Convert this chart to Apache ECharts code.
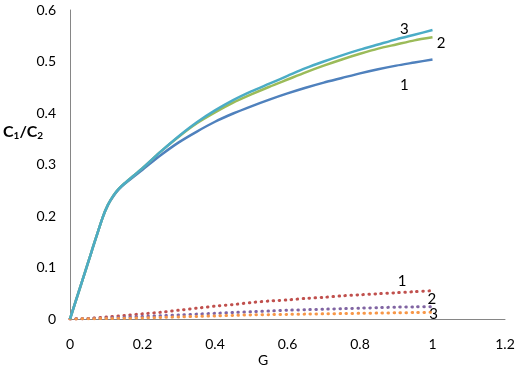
<!DOCTYPE html>
<html>
<head>
<meta charset="utf-8">
<script src="https://cdn.jsdelivr.net/npm/echarts@6/dist/echarts.min.js"></script>
<style>
  html, body { margin: 0; padding: 0; background: #fff; }
  #container { width: 521px; height: 370px; }
</style>
</head>
<body>
<div id="container"></div>
<script>
// G values and C1/C2 curves
const gSolid = [0, 0.03, 0.06, 0.09, 0.105, 0.12, 0.135, 0.15, 0.2, 0.25, 0.3, 0.35, 0.4, 0.45, 0.5, 0.55, 0.6, 0.65, 0.7, 0.75, 0.8, 0.85, 0.9, 0.95, 1.0];
const solid1 = [0, 0.066, 0.132, 0.197, 0.222, 0.239, 0.252, 0.262, 0.290, 0.318, 0.343, 0.364, 0.383, 0.399, 0.413, 0.426, 0.438, 0.449, 0.459, 0.468, 0.477, 0.485, 0.492, 0.498, 0.504];
const solid2 = [0, 0.066, 0.132, 0.197, 0.222, 0.240, 0.253, 0.263, 0.293, 0.325, 0.354, 0.380, 0.401, 0.420, 0.436, 0.451, 0.465, 0.479, 0.492, 0.504, 0.515, 0.525, 0.533, 0.541, 0.547];
const solid3 = [0, 0.066, 0.132, 0.197, 0.222, 0.240, 0.253, 0.263, 0.293, 0.325, 0.355, 0.382, 0.405, 0.425, 0.442, 0.457, 0.472, 0.487, 0.500, 0.512, 0.523, 0.533, 0.543, 0.552, 0.561];

const gDot = [0, 0.05, 0.1, 0.15, 0.2, 0.25, 0.3, 0.35, 0.4, 0.45, 0.5, 0.55, 0.6, 0.65, 0.7, 0.75, 0.8, 0.85, 0.9, 0.95, 1.0];
const dot1 = [0, 0.001, 0.004, 0.007, 0.010, 0.013, 0.017, 0.021, 0.025, 0.028, 0.032, 0.035, 0.037, 0.040, 0.042, 0.045, 0.047, 0.049, 0.051, 0.053, 0.055];
const dot2 = [0, 0.001, 0.002, 0.0035, 0.005, 0.0065, 0.008, 0.0095, 0.011, 0.0125, 0.014, 0.0155, 0.017, 0.018, 0.019, 0.020, 0.021, 0.022, 0.023, 0.0235, 0.024];
const dot3 = [0, 0.0005, 0.001, 0.0015, 0.002, 0.003, 0.004, 0.005, 0.006, 0.007, 0.008, 0.0085, 0.009, 0.0095, 0.010, 0.0105, 0.011, 0.0115, 0.012, 0.0125, 0.013];

// curve numbers written next to the lines: [G, C1/C2, text]
const tags1 = [0.922, 0.454, '1'];
const tags2 = [1.024, 0.535, '2'];
const tags3 = [0.922, 0.562, '3'];
const tagsD1 = [0.916, 0.074, '1'];
const tagsD2 = [0.998, 0.038, '2'];
const tagsD3 = [1.003, 0.009, '3'];

const xTicks = [0, 0.2, 0.4, 0.6, 0.8, 1, 1.2];
const yTicks = [0, 0.1, 0.2, 0.3, 0.4, 0.5, 0.6];

const FONT = 'Lato';

function pairs(xs, ys) {
    return xs.map(function (x, i) { return [x, ys[i]]; });
}

function tag(t) {
    return {
        symbolSize: 0,
        label: { show: true, position: 'inside', color: '#000', fontSize: 15, fontFamily: FONT, formatter: t[2] },
        data: [{ coord: [t[0], t[1]] }]
    };
}

function line(data, color, dotted, t) {
    return {
        type: 'line',
        data: data,
        showSymbol: false,
        smooth: 0.25,
        animation: false,
        lineStyle: dotted
            ? { color: color, width: 3, type: [0.5, 5.5], cap: 'round' }
            : { color: color, width: 2.5 },
        markPoint: tag(t)
    };
}

let myChart = echarts.init(document.getElementById('container'));
let option = {
    backgroundColor: '#fff',
    animation: false,
    grid: { left: 70, right: 16, top: 10, bottom: 51 },
    xAxis: {
        type: 'value',
        min: 0, max: 1.2, interval: 0.2,
        axisLine: { lineStyle: { color: '#868686', width: 1 } },
        axisTick: { show: false },
        splitLine: { show: false },
        axisLabel: {
            color: '#000', fontSize: 14, fontFamily: FONT, margin: 18,
            formatter: function (v) {
                let t = xTicks.find(function (k) { return Math.abs(k - v) < 1e-6; });
                return t === undefined ? '' : String(t);
            }
        }
    },
    yAxis: {
        type: 'value',
        min: 0, max: 0.6, interval: 0.1,
        axisLine: { show: true, lineStyle: { color: '#868686', width: 1 } },
        axisTick: { show: false },
        splitLine: { show: false },
        axisLabel: {
            color: '#000', fontSize: 14, fontFamily: FONT, margin: 14,
            formatter: function (v) {
                let t = yTicks.find(function (k) { return Math.abs(k - v) < 1e-6; });
                return t === undefined ? '' : String(t);
            }
        }
    },
    graphic: [
        {
            type: 'text', left: 3, top: 124,
            style: {
                text: '{a|C}{s|1}{a|/C}{s|2}',
                rich: {
                    a: { fontSize: 16, fontWeight: 'bold', fontFamily: FONT, fill: '#000' },
                    s: { fontSize: 10, fontWeight: 'bold', fontFamily: FONT, fill: '#000', padding: [8, 0, 0, 0] }
                }
            }
        },
        {
            type: 'text', left: 258, top: 353,
            style: { text: 'G', fontSize: 14, fontFamily: FONT, fill: '#000' }
        }
    ],
    series: [
        line(pairs(gDot, dot1), '#C0504D', true, tagsD1),
        line(pairs(gDot, dot2), '#8064A2', true, tagsD2),
        line(pairs(gDot, dot3), '#F79646', true, tagsD3),
        line(pairs(gSolid, solid1), '#4F81BD', false, tags1),
        line(pairs(gSolid, solid2), '#9BBB59', false, tags2),
        line(pairs(gSolid, solid3), '#4BACC6', false, tags3)
    ]
};
myChart.setOption(option);
</script>
</body>
</html>
